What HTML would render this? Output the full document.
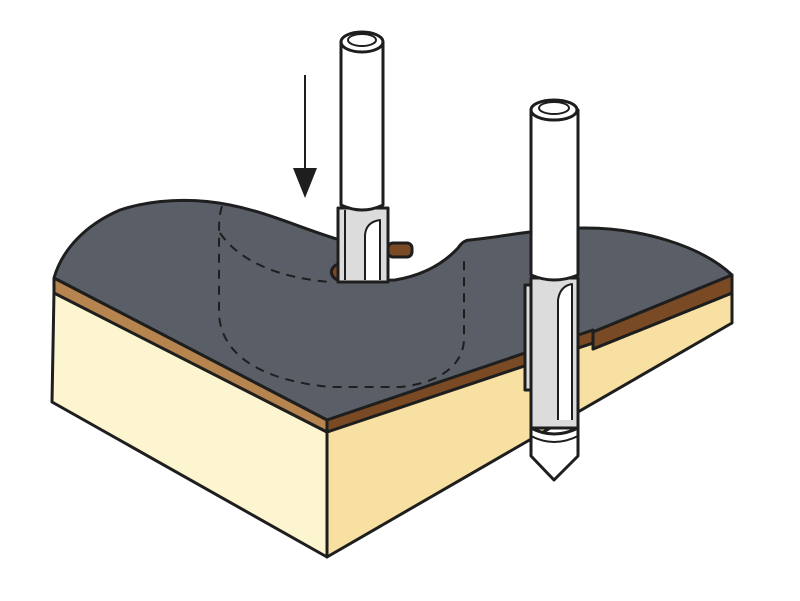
<!DOCTYPE html>
<html><head><style>html,body{margin:0;padding:0;background:#fff}svg{display:block}</style></head>
<body>
<svg width="800" height="601" viewBox="0 0 800 601" xmlns="http://www.w3.org/2000/svg">
<g stroke="#1e1e1e" stroke-width="3" stroke-linejoin="round">
<polygon points="54,292 327,432 327,557 52,402" fill="#fdf5cf"/>
<polygon points="327,432 593,343 593,349 732,293 732,323 327,557" fill="#f8dfa2"/>
<path d="M54,278 C62,250 85,225 120,210 C150,200 190,197 230,205 C270,213 300,228 340,240 L340,262 C332,268 330,278 345,282 L395,280 C425,275 445,262 458,248 C462,242 466,240 470,240 C510,236 540,228 585,228 C640,228 700,245 732,275 L593,332 L593,343 L327,420 Z" fill="#5a5f67"/>
<polygon points="54,278 327,420 327,432 54,293" fill="#b5844f"/>
<polygon points="327,420 593,330 593,343 327,432" fill="#7a4a25"/>
<polygon points="593,332 732,275 732,293 593,349" fill="#7a4a25"/>
</g>
<g fill="none" stroke="#1e1e1e" stroke-width="2" stroke-dasharray="9,7">
<path d="M222,206 C219,215 219,225 219,235 L219,315 C222,355 260,380 330,387 L400,387 C440,383 463,365 464,340 L464,255"/>
<path d="M220,233 C240,262 280,278 330,282"/>
</g>
<line x1="305" y1="75" x2="305" y2="172" stroke="#1e1e1e" stroke-width="2"/>
<polygon points="293,168 317,168 305,198" fill="#1e1e1e"/>
<g stroke="#1e1e1e" stroke-width="3" stroke-linejoin="round">
<rect x="388" y="243" width="24" height="14" rx="5" fill="#7a4a25"/>
<path d="M336,265 C328,270 330,280 345,282 L345,262 Z" fill="#7a4a25"/>
<rect x="338" y="208" width="50" height="74" fill="#dcdcdc"/>
<path d="M341,42 L341,205 Q362,215 383,205 L383,42 Z" fill="#fff"/>
<ellipse cx="362" cy="42" rx="21" ry="10" fill="#fff"/>
<ellipse cx="362" cy="40" rx="14" ry="6" fill="#fff" stroke-width="2"/>
<path d="M365,280 L365,235 Q366,222 380,220 L380,280" fill="#fff" stroke-width="2"/>
<line x1="345" y1="210" x2="345" y2="280" stroke-width="2"/>
</g>
<g stroke="#1e1e1e" stroke-width="3" stroke-linejoin="round">
<rect x="525" y="285" width="8" height="105" fill="#dcdcdc"/>
<rect x="531" y="278" width="47" height="150" fill="#dcdcdc"/>
<path d="M531,110 L531,275 Q554,285 578,275 L578,110 Z" fill="#fff"/>
<ellipse cx="554" cy="110" rx="23" ry="10" fill="#fff"/>
<ellipse cx="554" cy="108" rx="15" ry="6" fill="#fff" stroke-width="2"/>
<path d="M558,420 L558,300 Q560,286 572,284 L572,420" fill="#fff" stroke-width="2"/>
<path d="M531,428 L531,456 L554,480 L578,456 L578,428 Q554,440 531,428 Z" fill="#fff"/>
<path d="M531,436 Q554,448 578,436" fill="none" stroke-width="2"/>
</g>
</svg>
</body></html>
